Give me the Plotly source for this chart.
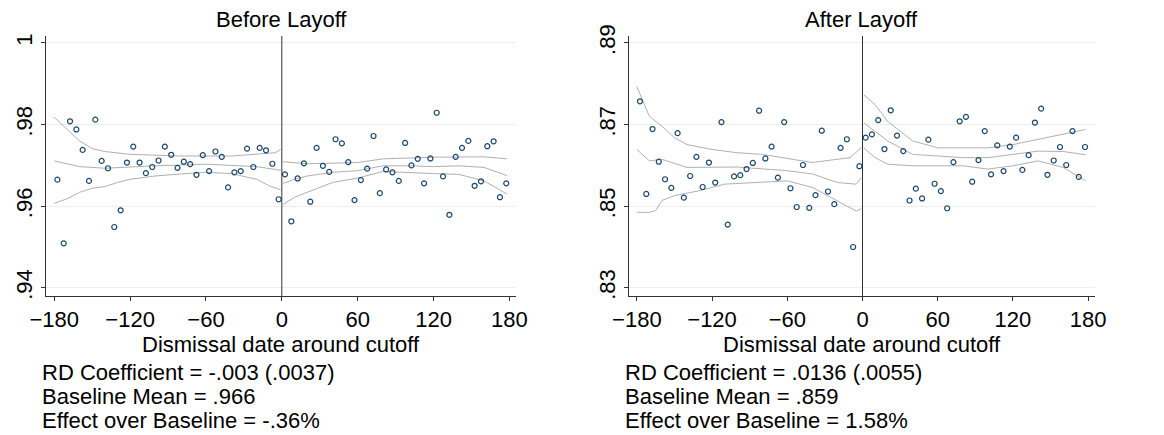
import plotly.graph_objects as go

bins_left = [-177.5 + 5 * i for i in range(36)]
bins_right = [2.5 + 5 * i for i in range(36)]

before_left = [.9665,.9509,.9808,.9788,.9738,.9662,.9812,.9711,.9693,.9549,.9590,.9707,.9746,.9707,.9681,.9696,.9712,.9746,
               .9726,.9694,.9709,.9703,.9677,.9725,.9686,.9734,.9721,.9646,.9683,.9686,.9741,.9696,.9743,.9737,.9704,.9617]
before_right = [.9678,.9563,.9668,.9705,.9611,.9743,.9699,.9684,.9764,.9754,.9708,.9615,.9664,.9692,.9772,.9632,.9690,.9683,
                .9662,.9755,.9700,.9716,.9656,.9717,.9829,.9673,.9579,.9721,.9743,.9760,.9650,.9661,.9747,.9759,.9622,.9656]
after_left = [.8757,.8530,.8689,.8609,.8566,.8545,.8679,.8521,.8574,.8621,.8547,.8607,.8558,.8706,.8455,.8573,.8576,.8591,
              .8606,.8734,.8617,.8646,.8570,.8706,.8544,.8498,.8601,.8496,.8527,.8685,.8536,.8505,.8643,.8664,.8400,.8598]
after_right = [.8668,.8676,.8711,.8640,.8735,.8673,.8635,.8514,.8543,.8519,.8663,.8555,.8537,.8495,.8608,.8708,.8719,.8560,
               .8613,.8684,.8578,.8649,.8586,.8646,.8668,.8589,.8625,.8705,.8739,.8577,.8612,.8645,.8601,.8684,.8572,.8645]

# fitted lines and confidence bands: (x, y)
before_lines = [
    ([-180,-170,-160,-150,-140,-120,-80,-40,-5,-1], [.9818,.9788,.9760,.9741,.9734,.9727,.9723,.9723,.9731,.9739]),
    ([-180,-160,-140,-100,-60,-20,-1], [.9711,.9697,.9693,.9699,.9703,.9697,.9688]),
    ([-180,-170,-160,-150,-140,-130,-120,-100,-80,-60,-40,-20,-10,-1],
     [.9607,.9618,.9634,.9644,.9648,.9658,.9666,.9674,.9679,.9683,.9680,.9666,.9650,.9640]),
    ([1,20,60,80,120,160,178], [.9709,.9704,.9707,.9716,.9720,.9721,.9716]),
    ([1,10,20,40,60,80,100,120,140,160,178], [.9656,.9666,.9674,.9683,.9687,.9699,.9699,.9697,.9699,.9695,.9675]),
    ([1,10,20,40,60,80,120,140,160,178], [.9604,.9622,.9634,.9658,.9669,.9685,.9680,.9678,.9662,.9630]),
]
after_lines = [
    ([-180,-170,-160,-150,-140,-120,-100,-80,-40,-10,-1], [.8793,.8720,.8696,.8668,.8651,.8639,.8631,.8627,.8607,.8619,.8643]),
    ([-180,-170,-160,-140,-100,-60,-40,-20,-5,-1], [.8639,.8611,.8615,.8595,.8596,.8587,.8579,.8558,.8554,.8570]),
    ([-180,-170,-165,-160,-150,-130,-110,-80,-60,-40,-20,-5,-1],
     [.8485,.8485,.8489,.8514,.8526,.8538,.8554,.8558,.8562,.8546,.8514,.8488,.8494]),
    ([1,10,20,40,60,80,100,120,140,160,178], [.8773,.8749,.8708,.8660,.8643,.8643,.8643,.8651,.8664,.8676,.8688]),
    ([1,10,20,40,60,80,100,120,140,160,178], [.8704,.8684,.8660,.8627,.8623,.8619,.8619,.8627,.8635,.8634,.8626]),
    ([1,10,20,40,60,80,100,120,140,160,178], [.8643,.8619,.8603,.8599,.8599,.8599,.8591,.8599,.8611,.8595,.8562]),
]

x_ticks = [-180, -120, -60, 0, 60, 120, 180]
before_yticks = [.94, .96, .98, 1.0]
before_ytext = [".94", ".96", ".98", "1"]
after_yticks = [.83, .85, .87, .89]
after_ytext = [".83", ".85", ".87", ".89"]
before_stats = ["RD Coefficient = -.003 (.0037)", "Baseline Mean = .966", "Effect over Baseline = -.36%"]
after_stats = ["RD Coefficient = .0136 (.0055)", "Baseline Mean = .859", "Effect over Baseline = 1.58%"]

FONT = "Arial, Liberation Sans, sans-serif"
FS = 22
ML, MT, MB = 38, 28, 147
PW, PH = 1164 - ML, 435 - MT - MB

def px(x):
    return (x - ML) / PW

def py(y):
    return (435 - MB - y) / PH

fig = go.Figure()
panels = [
    ("x", "y", before_left + before_right, before_lines, [0.938, 1.0017], before_yticks, before_ytext, [px(38), px(508)], "Before Layoff", before_stats),
    ("x2", "y2", after_left + after_right, after_lines, [0.828, 0.8917], after_yticks, after_ytext, [px(620.7), px(1086.7)], "After Layoff", after_stats),
]
for i, (xa, ya, pts, lines, yr, yt, ytt, dom, title, stats) in enumerate(panels):
    for lx, ly in lines:
        fig.add_trace(go.Scatter(x=lx, y=ly, mode="lines", line=dict(color="#b0b0b0", width=1),
                                 xaxis=xa, yaxis=ya, showlegend=False, hoverinfo="skip"))
    fig.add_trace(go.Scatter(x=bins_left + bins_right, y=pts, mode="markers",
                             marker=dict(symbol="circle-open", color="#1a476f", size=5, line=dict(width=1.2)),
                             xaxis=xa, yaxis=ya, showlegend=False))
    sfx = "" if i == 0 else "2"
    fig.update_layout(**{
        "xaxis" + sfx: dict(domain=dom, range=[-186.5, 185.2], tickvals=x_ticks, showgrid=False, zeroline=False,
                            showline=True, linecolor="#333", ticks="outside", ticklen=4, tickcolor="#333",
                            anchor=ya, automargin=False, tickfont=dict(size=FS, color="black")),
        "yaxis" + sfx: dict(domain=[0, 1], range=yr, tickvals=yt, ticktext=ytt, tickangle=-90,
                            showgrid=True, gridcolor="#eeeeee", zeroline=False, showline=True, linecolor="#333",
                            ticks="outside", ticklen=4, tickcolor="#333", anchor=xa, automargin=False,
                            tickfont=dict(size=FS, color="black")),
    })
    fig.add_shape(type="line", x0=0, x1=0, y0=0, y1=1, xref=xa, yref=ya + " domain",
                  line=dict(color="#333", width=1))
    cx = (dom[0] + dom[1]) / 2
    fig.add_annotation(text=title, x=cx, y=py(11), xref="paper", yref="paper", xanchor="center",
                       yanchor="middle", showarrow=False, font=dict(size=FS, color="black"))
    fig.add_annotation(text="Dismissal date around cutoff", x=cx, y=py(336), xref="paper", yref="paper",
                       xanchor="center", yanchor="middle", showarrow=False, font=dict(size=FS, color="black"))
    for k, s in enumerate(stats):
        fig.add_annotation(text=s, x=dom[0] + px(32) - px(38), y=py(364 + 24 * k), xref="paper", yref="paper",
                           xanchor="left", yanchor="middle", showarrow=False, font=dict(size=FS, color="black"))

fig.update_layout(width=1164, height=435, margin=dict(l=ML, r=0, t=MT, b=MB), plot_bgcolor="white",
                  paper_bgcolor="white", font=dict(family=FONT, color="black"))
fig.write_html("out.html")
